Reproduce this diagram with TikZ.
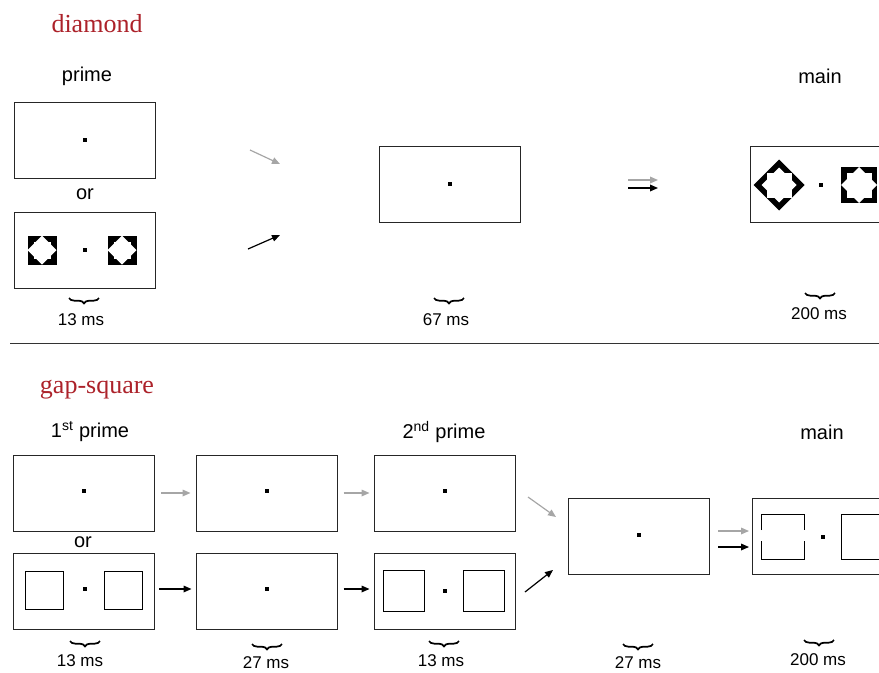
\documentclass[tikz,border=0pt]{standalone}
\usepackage{fontspec}
\setmainfont{Liberation Sans}
\newfontfamily\titlefont{Liberation Serif}
\usetikzlibrary{arrows.meta,decorations.pathreplacing}
\definecolor{titlered}{RGB}{172,34,42}
\definecolor{arrowgray}{RGB}{166,166,166}
\newcommand\starsq[5]{% cx cy squarehalf diamondhalf axishalf
  \begin{scope}[shift={(#1,#2)}]
    \fill[black] (-#3,-#3) rectangle (#3,#3);
    \fill[white] (-#5,-#5) rectangle (#5,#5);
    \fill[white] (-#4,0) -- (0,-#4) -- (#4,0) -- (0,#4) -- cycle;
  \end{scope}}
\newcommand\stardia[5]{% cx cy diamondhalf stardiamondhalf axishalf
  \begin{scope}[shift={(#1,#2)}]
    \fill[black] (-#3,0) -- (0,-#3) -- (#3,0) -- (0,#3) -- cycle;
    \fill[white] (-#5,-#5) rectangle (#5,#5);
    \fill[white] (-#4,0) -- (0,-#4) -- (#4,0) -- (0,#4) -- cycle;
  \end{scope}}
\begin{document}
\begin{tikzpicture}[x=0.75pt,y=-0.75pt,
  frame/.style={draw=black!85, line width=0.75pt, minimum width=105.75pt, minimum height=57pt, inner sep=0pt},
  lbl/.style={font=\fontsize{15}{18}\selectfont, inner sep=0pt},
  ms/.style={font=\fontsize{12.75}{15}\selectfont, inner sep=0pt},
  ttl/.style={font=\titlefont\fontsize{19.5}{23}\selectfont, text=titlered, inner sep=0pt},
  garrow/.style={draw=arrowgray, line width=0.9pt, -{Triangle[length=6pt,width=5pt]}},
  barrow/.style={draw=black, line width=0.9pt, -{Triangle[length=6pt,width=5pt]}},
  brc/.style={decorate, decoration={brace, amplitude=4pt}, line width=1.3pt},
  fix/.style={fill=black, minimum size=2.8pt, inner sep=0pt},
  sq/.style={draw=black, line width=0.75pt}]
\useasboundingbox (0,0) rectangle (879,672);
\clip (0,0) rectangle (879,672);

% ---------------- diamond section ----------------
\node[ttl] (t1) at (97,24) {diamond};
\node[lbl] (h1) at (87,76) {prime};
\node[lbl] (h2) at (820,76) {main};

\node[frame] (d1) at (85,140) {};
\node[fix] (d1f) at (85,140) {};
\node[lbl] (or1) at (85,194) {or};
\node[frame] (d2) at (85,250) {};
\starsq{42}{250}{14.5}{14.5}{8.5}
\starsq{122}{250}{14.5}{14.5}{8.5}
\node[fix] (d2f) at (85,250) {};

\node[frame] (d3) at (449.5,184.5) {};
\node[fix] (d3f) at (450,184) {};

\node[frame] (d4) at (820.5,184.5) {};
\stardia{779}{185}{25.5}{17.5}{12.5}
\starsq{859}{185}{18}{18}{12.5}
\node[fix] (d4f) at (821,185) {};

\coordinate (a1s) at (250,150); \coordinate (a1e) at (280,164);
\coordinate (a2s) at (248,249); \coordinate (a2e) at (280,235);
\draw[garrow] (a1s) -- (a1e);
\draw[barrow] (a2s) -- (a2e);
\coordinate (a3s) at (628,180); \coordinate (a3e) at (658,180);
\coordinate (a4s) at (628,188); \coordinate (a4e) at (658,188);
\draw[garrow] (a3s) -- (a3e);
\draw[barrow] (a4s) -- (a4e);

\coordinate (b1r) at (99,298); \coordinate (b1l) at (69,298);
\draw[brc] (b1r) -- (b1l);
\node[ms] (m1) at (81,320) {13 ms};
\coordinate (b2r) at (464,298); \coordinate (b2l) at (434,298);
\draw[brc] (b2r) -- (b2l);
\node[ms] (m2) at (446,320) {67 ms};
\coordinate (b3r) at (835,293); \coordinate (b3l) at (805,293);
\draw[brc] (b3r) -- (b3l);
\node[ms] (m3) at (819,314) {200 ms};

% separator
\coordinate (s1) at (10,343); \coordinate (s2) at (879,343);
\draw[line width=0.75pt, black!80] (s1) -- (s2);

% ---------------- gap-square section ----------------
\node[ttl] (t2) at (97,390) {gap-square};
\node[lbl] (h3) at (90,432) {1\textsuperscript{st} prime};
\node[lbl] (h4) at (444,432) {2\textsuperscript{nd} prime};
\node[lbl] (h5) at (822,432) {main};

\node[frame] (g1) at (84,493) {};
\node[fix] at (84,491) {};
\node[frame] (g2) at (266.5,493) {};
\node[fix] at (267,491) {};
\node[frame] (g3) at (444.5,493) {};
\node[fix] at (445,491) {};
\node[lbl] (or2) at (83,542) {or};

\node[frame] (g4) at (84,591) {};
\draw[sq] (25,571) rectangle (63,609);
\draw[sq] (104,571) rectangle (142,609);
\node[fix] at (85,589) {};
\node[frame] (g5) at (266.5,591) {};
\node[fix] at (267,589) {};
\node[frame] (g6) at (444.5,591) {};
\draw[sq] (383,570) rectangle (424,611);
\draw[sq] (463,570) rectangle (504,611);
\node[fix] at (445,591) {};

\node[frame] (g7) at (638.5,536) {};
\node[fix] at (639,535) {};

\node[frame] (g8) at (822.5,536) {};
\draw[sq] (761,530) -- (761,514) -- (804,514) -- (804,530);
\draw[sq] (761,541) -- (761,559) -- (804,559) -- (804,541);
\draw[sq] (841,514) rectangle (886,559);
\node[fix] at (823,537) {};

\draw[garrow, shorten <=4.5pt, shorten >=3.75pt] (g1.east) -- (g2.west);
\draw[garrow, shorten <=4.5pt, shorten >=3pt] (g2.east) -- (g3.west);
\draw[barrow, shorten <=3pt, shorten >=3pt] (g4.east |- 0,589) -- (g5.west |- 0,589);
\draw[barrow, shorten <=4.5pt, shorten >=3pt] (g5.east |- 0,589) -- (g6.west |- 0,589);
\coordinate (c1s) at (528,497); \coordinate (c1e) at (556,517);
\coordinate (c2s) at (525,592); \coordinate (c2e) at (553,570);
\draw[garrow] (c1s) -- (c1e);
\draw[barrow] (c2s) -- (c2e);
\coordinate (c3s) at (718,531); \coordinate (c3e) at (749,531);
\coordinate (c4s) at (718,547); \coordinate (c4e) at (749,547);
\draw[garrow] (c3s) -- (c3e);
\draw[barrow] (c4s) -- (c4e);

\coordinate (e1r) at (100,641); \coordinate (e1l) at (70,641);
\draw[brc] (e1r) -- (e1l);
\node[ms] at (80,661) {13 ms};
\coordinate (e2r) at (282,644); \coordinate (e2l) at (252,644);
\draw[brc] (e2r) -- (e2l);
\node[ms] at (266,663) {27 ms};
\coordinate (e3r) at (459,641); \coordinate (e3l) at (429,641);
\draw[brc] (e3r) -- (e3l);
\node[ms] at (441,661) {13 ms};
\coordinate (e4r) at (653,644); \coordinate (e4l) at (623,644);
\draw[brc] (e4r) -- (e4l);
\node[ms] at (638,663) {27 ms};
\coordinate (e5r) at (834,640); \coordinate (e5l) at (804,640);
\draw[brc] (e5r) -- (e5l);
\node[ms] at (818,660) {200 ms};
\end{tikzpicture}
\end{document}
